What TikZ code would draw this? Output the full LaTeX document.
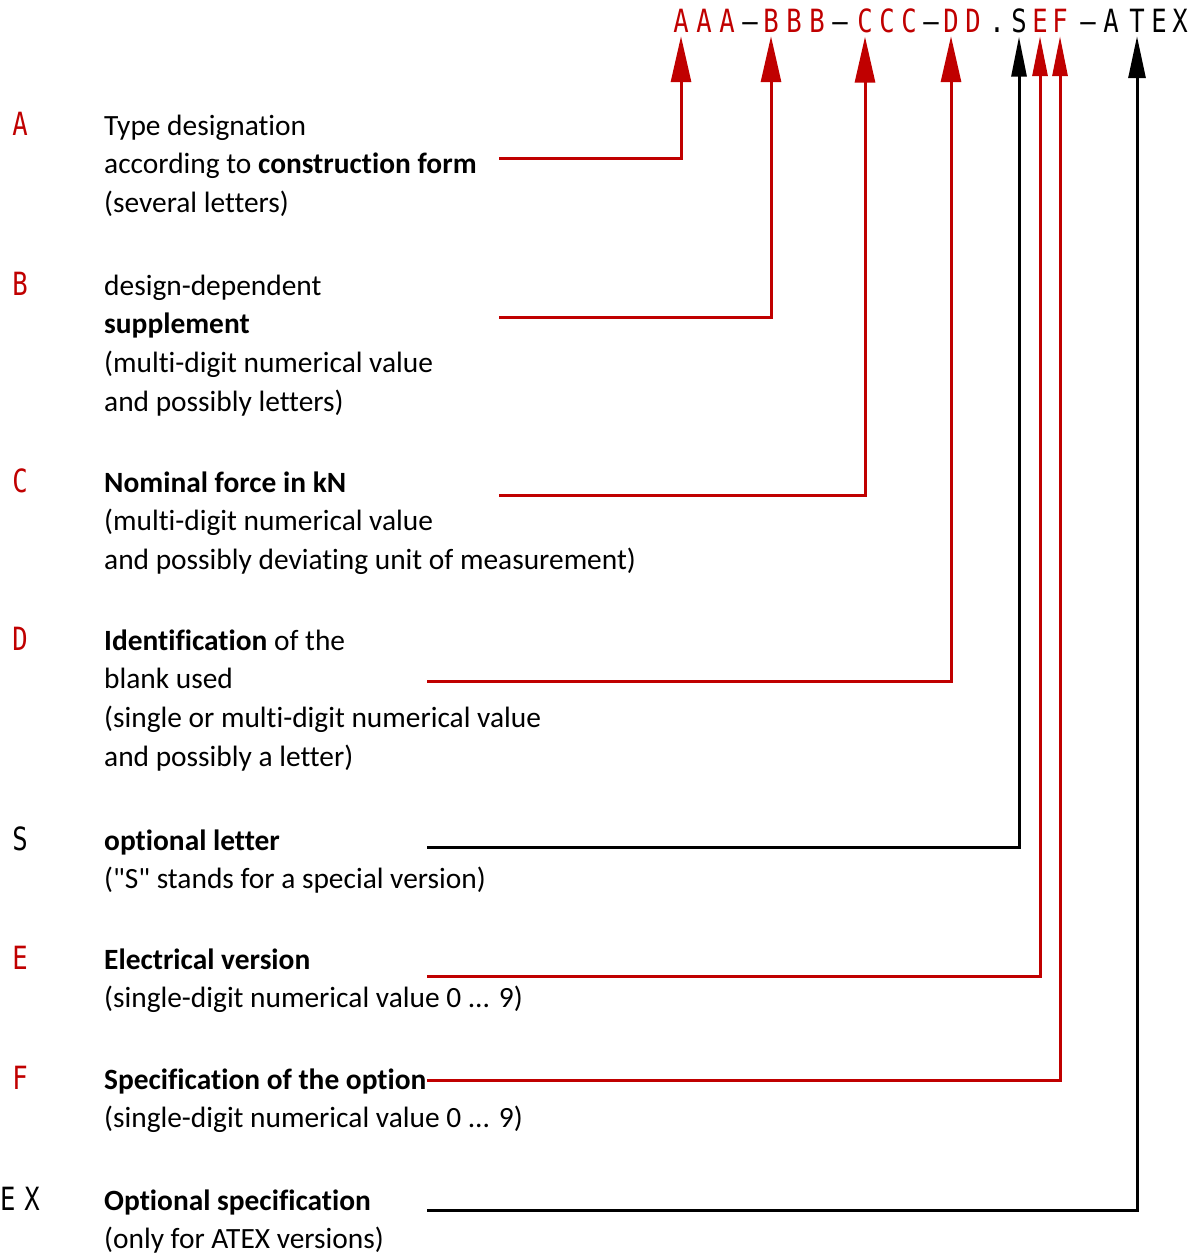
\documentclass[tikz,border=0pt]{standalone}
\usepackage{fontspec}
\setmainfont{Carlito}[Ligatures=NoCommon]
\newfontfamily\plainfont{Carlito}[Ligatures=NoCommon]
\newfontfamily\codefont[FakeStretch=0.8]{DejaVu Sans Mono}
\usetikzlibrary{arrows.meta}
\definecolor{dred}{RGB}{192,0,0}
\begin{document}
\begin{tikzpicture}[x=1pt,y=-1pt,
  code/.style={font=\codefont\fontsize{32}{32}\selectfont, inner sep=3pt, anchor=base},
  lbl/.style={font=\codefont\fontsize{32}{32}\selectfont, inner sep=0pt, anchor=base},
  desc/.style={font=\fontsize{29.4}{38.7}\selectfont, align=left, anchor=base west, inner sep=0pt},
  conn/.style={line width=3pt, -{Triangle[length=46pt,width=20pt]}},
  connS/.style={line width=3pt, -{Triangle[length=40pt,width=15pt]}},
]
\useasboundingbox (0,0) rectangle (1197,1255);
% code line
\node[code,text=dred] (cA1) at (681,33) {A};
\node[code,text=dred] (cA2) at (704,33) {A};
\node[code,text=dred] (cA3) at (727,33) {A};
\node[code] (h1) at (750,33) {–};
\node[code,text=dred] (cB1) at (771,33) {B};
\node[code,text=dred] (cB2) at (794,33) {B};
\node[code,text=dred] (cB3) at (817,33) {B};
\node[code] (h2) at (840,33) {–};
\node[code,text=dred] (cC1) at (865,33) {C};
\node[code,text=dred] (cC2) at (887,33) {C};
\node[code,text=dred] (cC3) at (909,33) {C};
\node[code] (h3) at (931,33) {–};
\node[code,text=dred] (cD1) at (951,33) {D};
\node[code,text=dred] (cD2) at (973,33) {D};
\node[code] (dot) at (997,33) {.};
\node[code] (cS) at (1019,33) {S};
\node[code,text=dred] (cE) at (1040,33) {E};
\node[code,text=dred] (cF) at (1060,33) {F};
\node[code] (h4) at (1088,33) {–};
\node[code] (tA) at (1111,33) {A};
\node[code] (tT) at (1137,33) {T};
\node[code] (tE) at (1159,33) {E};
\node[code] (tX) at (1180,33) {X};
% left labels
\node[lbl,text=dred] (lA) at (20,135) {A};
\node[lbl,text=dred] (lB) at (20,295) {B};
\node[lbl,text=dred] (lC) at (20,492) {C};
\node[lbl,text=dred] (lD) at (20,650) {D};
\node[lbl] (lS) at (20,850) {S};
\node[lbl,text=dred] (lE) at (20,969) {E};
\node[lbl,text=dred] (lF) at (20,1089) {F};
\node[lbl] (lEX) at (20,1210) {E\hspace{9pt}X};
% descriptions (anchored at the baseline of their last line)
\node[desc] (dA) at (104,212.4) {Type designation\\according to \textbf{construction form}\\(several letters)};
\node[desc] (dB) at (104,411.1) {design-dependent\\\textbf{supplement}\\(multi-digit numerical value\\and possibly letters)};
\node[desc] (dC) at (104,569.4) {\textbf{Nominal force in kN}\\(multi-digit numerical value\\and possibly deviating unit of measurement)};
\node[desc] (dD) at (104,766.1) {\textbf{Identification} of the\\blank used\\(single or multi-digit numerical value\\and possibly a letter)};
\node[desc] (dS) at (104,888.7) {\textbf{optional letter}\\{\plainfont("S" stands for a special version)}};
\node[desc] (dE) at (104,1007.7) {\textbf{Electrical version}\\(single-digit numerical value 0 ... 9)};
\node[desc] (dF) at (104,1127.7) {\textbf{Specification of the option}\\(single-digit numerical value 0 ... 9)};
\node[desc] (dEX) at (104,1248.7) {\textbf{Optional specification}\\(only for ATEX versions)};
% connector start points
\coordinate (pA) at (499,158);
\coordinate (pB) at (499,317);
\coordinate (pC) at (499,495);
\coordinate (pD) at (427,681);
\coordinate (pS) at (427,847);
\coordinate (pE) at (427,976);
\coordinate (pF) at (427,1080);
\coordinate (pEX) at (427,1210);
% connectors
\draw[conn,dred] (pA) -| (cA1.south);
\draw[conn,dred] (pB) -| (cB1.south);
\draw[conn,dred] (pC) -| (cC1.south);
\draw[conn,dred] (pD) -| (cD1.south);
\draw[connS,black] (pS) -| (cS.south);
\draw[connS,dred] (pE) -| (cE.south);
\draw[connS,dred] (pF) -| (cF.south);
\draw[conn,black,-{Triangle[length=42pt,width=17pt]}] (pEX) -| (tT.south);
\end{tikzpicture}
\end{document}
